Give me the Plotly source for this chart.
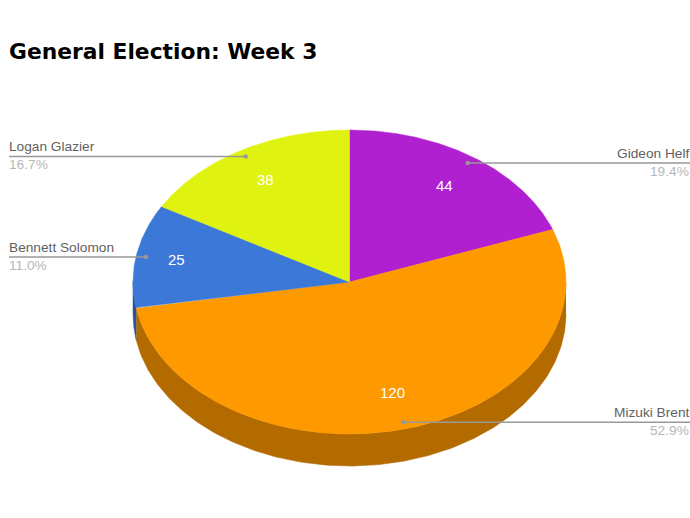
import numpy as np
import plotly.graph_objects as go

names = ["Gideon Helf", "Mizuki Brent", "Bennett Solomon", "Logan Glazier"]
votes = [44, 120, 25, 38]
top_colors = ["#B01FD0", "#FF9900", "#3C78D8", "#E0F20F"]
side_colors = ["#7B1692", "#B36B00", "#2A5497", "#9DA90A"]
title_text = "General Election: Week 3"

W, H = 690, 518
CX, CY, RX, RY, DEPTH = 349.5, 282.0, 216.5, 152.0, 32.0
FONT = "Liberation Sans, Arial, sans-serif"
VALUE_RADIUS = [0.77, 0.76, 0.81, 0.77]


def pt(theta, r=1.0):
    """theta is clockwise from 12 o'clock, in radians."""
    return CX + RX * r * np.sin(theta), CY - RY * r * np.cos(theta)


total = sum(votes)
edges = np.concatenate([[0], np.cumsum(votes)]) / total * 2 * np.pi
fig = go.Figure()
common = dict(mode="lines", fill="toself", hoverinfo="skip", showlegend=False)

# side walls (only the front half of the rim is visible)
for i in range(len(votes)):
    a, b = max(edges[i], np.pi / 2), min(edges[i + 1], 3 * np.pi / 2)
    if b <= a:
        continue
    t = np.linspace(a, b, 200)
    x, y = pt(t)
    fig.add_trace(go.Scatter(
        x=np.concatenate([x, x[::-1]]),
        y=np.concatenate([y, y[::-1] + DEPTH]),
        fillcolor=side_colors[i], line=dict(color=side_colors[i], width=0.5), **common))

# top face
for i in range(len(votes)):
    t = np.linspace(edges[i], edges[i + 1], 300)
    x, y = pt(t)
    fig.add_trace(go.Scatter(
        x=np.concatenate([[CX], x, [CX]]),
        y=np.concatenate([[CY], y, [CY]]),
        fillcolor=top_colors[i], line=dict(color=top_colors[i], width=0.5), **common))

# leader lines and labels
annotations = []
for i, name in enumerate(names):
    mid = (edges[i] + edges[i + 1]) / 2
    dx, dy = pt(mid, 0.955)
    right = mid < np.pi
    end = W if right else 9
    text_x = W if right else 8
    fig.add_trace(go.Scatter(
        x=[dx, end], y=[dy, dy], mode="lines", hoverinfo="skip", showlegend=False,
        line=dict(color="#999999", width=1.5)))
    fig.add_trace(go.Scatter(
        x=[dx], y=[dy], mode="markers", hoverinfo="skip", showlegend=False,
        marker=dict(color="#999999", size=4.5)))
    anchor = "right" if right else "left"
    annotations.append(dict(x=text_x, y=dy - 1, text=name, xanchor=anchor, yanchor="bottom",
                            showarrow=False, borderpad=0,
                            font=dict(family=FONT, size=13.7, color="#5f5f5f")))
    annotations.append(dict(x=text_x, y=dy, text=f"{votes[i] / total * 100:.1f}%",
                            xanchor=anchor, yanchor="top", showarrow=False, borderpad=0,
                            font=dict(family=FONT, size=13.7, color="#b7b7b7")))
    vx, vy = pt(mid, VALUE_RADIUS[i])
    annotations.append(dict(x=vx, y=vy - 1, text=str(votes[i]), showarrow=False,
                            font=dict(family=FONT, size=15, color="#ffffff")))

annotations.append(dict(x=8, y=51, text=f"<b>{title_text}</b>", xanchor="left", yanchor="middle",
                        showarrow=False, borderpad=0,
                        font=dict(family="DejaVu Sans, sans-serif", size=21.8, color="#000000")))

fig.update_layout(
    width=W, height=H, margin=dict(l=0, r=0, t=0, b=0),
    paper_bgcolor="#ffffff", plot_bgcolor="#ffffff",
    xaxis=dict(range=[0, W], visible=False, fixedrange=True),
    yaxis=dict(range=[H, 0], visible=False, fixedrange=True),
    annotations=annotations, showlegend=False,
)
fig.write_html(
    "out.html",
    config={"displayModeBar": False},
    post_script="document.body.style.margin='0';document.documentElement.style.overflow='hidden';",
)
